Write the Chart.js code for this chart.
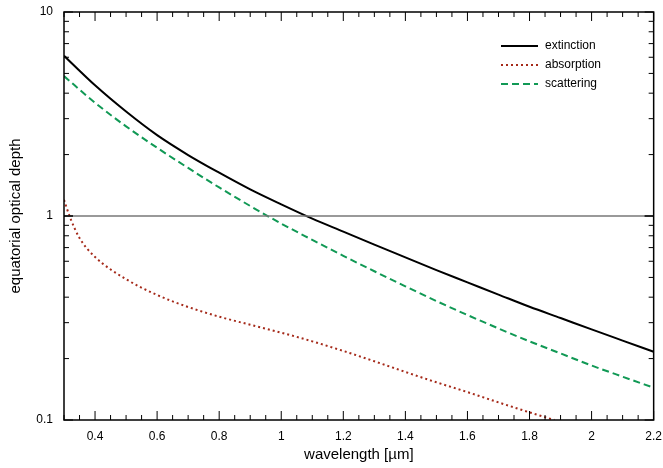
<!DOCTYPE html>
<html>
<head>
<meta charset="utf-8">
<script src="https://cdn.jsdelivr.net/npm/chart.js@4"></script>
<style>
  body { margin: 0; background: #fff; }
  #wrap { width: 663px; height: 468px; }
</style>
</head>
<body>
<div id="wrap"><canvas id="c"></canvas></div>
<script>
const extX = [0.3, 0.4, 0.5, 0.6, 0.7, 0.8, 0.9, 1.0, 1.1, 1.2, 1.3, 1.4, 1.5, 1.6, 1.7, 1.8, 1.9, 2.0, 2.1, 2.2];
const extinction = [6.1, 4.37, 3.25, 2.49, 1.99, 1.63, 1.35, 1.14, 0.97, 0.838, 0.724, 0.627, 0.543, 0.473, 0.412, 0.359, 0.316, 0.278, 0.245, 0.216];
const scattering = [4.85, 3.59, 2.75, 2.16, 1.72, 1.38, 1.12, 0.918, 0.764, 0.638, 0.536, 0.452, 0.383, 0.327, 0.281, 0.243, 0.212, 0.185, 0.163, 0.144];
const absX = [0.3, 0.32, 0.35, 0.4, 0.5, 0.6, 0.7, 0.8, 0.9, 1.0, 1.1, 1.2, 1.3, 1.4, 1.5, 1.6, 1.7, 1.8, 1.88];
const absorption = [1.2, 0.98, 0.78, 0.63, 0.49, 0.41, 0.358, 0.321, 0.293, 0.268, 0.243, 0.218, 0.194, 0.172, 0.153, 0.137, 0.122, 0.109, 0.1];
const xTicks = [0.4, 0.6, 0.8, 1, 1.2, 1.4, 1.6, 1.8, 2, 2.2];
const yTicks = [0.1, 1, 10];

const pts = (xs, ys) => xs.map((x, i) => ({x: x, y: ys[i]}));
const FONT = "'Liberation Sans', Arial, sans-serif";

const frame = {
  id: 'frame',
  afterDatasetsDraw(chart) {
    const {ctx, chartArea: a, scales: {x, y}} = chart;
    ctx.save();
    // reference line at 1
    ctx.strokeStyle = '#777';
    ctx.lineWidth = 1.5;
    ctx.beginPath();
    ctx.moveTo(a.left, y.getPixelForValue(1));
    ctx.lineTo(a.right, y.getPixelForValue(1));
    ctx.stroke();
    ctx.strokeStyle = '#000';
    ctx.lineWidth = 1.5;
    ctx.strokeRect(a.left, a.top, a.right - a.left, a.bottom - a.top);
    ctx.lineWidth = 1;
    // x ticks, inward
    for (let i = 0; i <= 38; i++) {
      const v = 0.3 + i * 0.05;
      const px = x.getPixelForValue(v);
      const len = i % 4 === 2 ? 9 : 5;
      ctx.beginPath();
      ctx.moveTo(px, a.bottom); ctx.lineTo(px, a.bottom - len);
      ctx.moveTo(px, a.top); ctx.lineTo(px, a.top + len);
      ctx.stroke();
    }
    // y log ticks
    for (const dec of [0.1, 1]) {
      for (let k = 1; k <= 10; k++) {
        const py = y.getPixelForValue(dec * k);
        const len = (k === 1 || k === 10) ? 9 : 5;
        ctx.beginPath();
        ctx.moveTo(a.left, py); ctx.lineTo(a.left + len, py);
        ctx.moveTo(a.right, py); ctx.lineTo(a.right - len, py);
        ctx.stroke();
      }
    }
    // legend
    const items = [
      ['extinction', '#000', [], 2],
      ['absorption', '#a52a1a', [2, 3], 2],
      ['scattering', '#119955', [7, 4], 2]
    ];
    ctx.font = '12px ' + FONT;
    ctx.fillStyle = '#000';
    ctx.textBaseline = 'middle';
    items.forEach((it, i) => {
      const ly = 46 + i * 19;
      ctx.strokeStyle = it[1];
      ctx.lineWidth = it[3];
      ctx.setLineDash(it[2]);
      ctx.beginPath();
      ctx.moveTo(501, ly); ctx.lineTo(538, ly);
      ctx.stroke();
      ctx.setLineDash([]);
      ctx.fillText(it[0], 545, ly);
    });
    ctx.restore();
  }
};

new Chart('c', {
  type: 'line',
  data: {
    datasets: [
      {label: 'extinction', data: pts(extX, extinction), borderColor: '#000', borderWidth: 2, pointRadius: 0, cubicInterpolationMode: 'monotone'},
      {label: 'absorption', data: pts(absX, absorption), borderColor: '#a52a1a', borderWidth: 2, borderDash: [2, 3], pointRadius: 0, cubicInterpolationMode: 'monotone'},
      {label: 'scattering', data: pts(extX, scattering), borderColor: '#119955', borderWidth: 2, borderDash: [7, 4], pointRadius: 0, cubicInterpolationMode: 'monotone'}
    ]
  },
  options: {
    responsive: true,
    maintainAspectRatio: false,
    animation: false,
    layout: {padding: {top: 12, right: 8, left: 3}},
    plugins: {legend: {display: false}, tooltip: {enabled: false}},
    scales: {
      x: {
        type: 'linear', min: 0.3, max: 2.2,
        grid: {display: false}, border: {display: false},
        afterBuildTicks: s => { s.ticks = xTicks.map(v => ({value: v})); },
        afterFit: s => { s.height = 48; },
        ticks: {color: '#000', font: {size: 12, family: FONT}, padding: 1, maxRotation: 0, callback: v => String(v)},
        title: {display: true, text: 'wavelength [µm]', color: '#000', font: {size: 15, family: FONT}, padding: {top: 6}}
      },
      y: {
        type: 'logarithmic', min: 0.1, max: 10,
        grid: {display: false}, border: {display: false},
        afterBuildTicks: s => { s.ticks = yTicks.map(v => ({value: v})); },
        afterFit: s => { s.width = 61; },
        ticks: {color: '#000', font: {size: 12, family: FONT}, padding: 3, callback: v => String(v)},
        title: {display: true, text: 'equatorial optical depth', color: '#000', font: {size: 15, family: FONT}, padding: {bottom: 2}}
      }
    }
  },
  plugins: [frame]
});
</script>
</body>
</html>
